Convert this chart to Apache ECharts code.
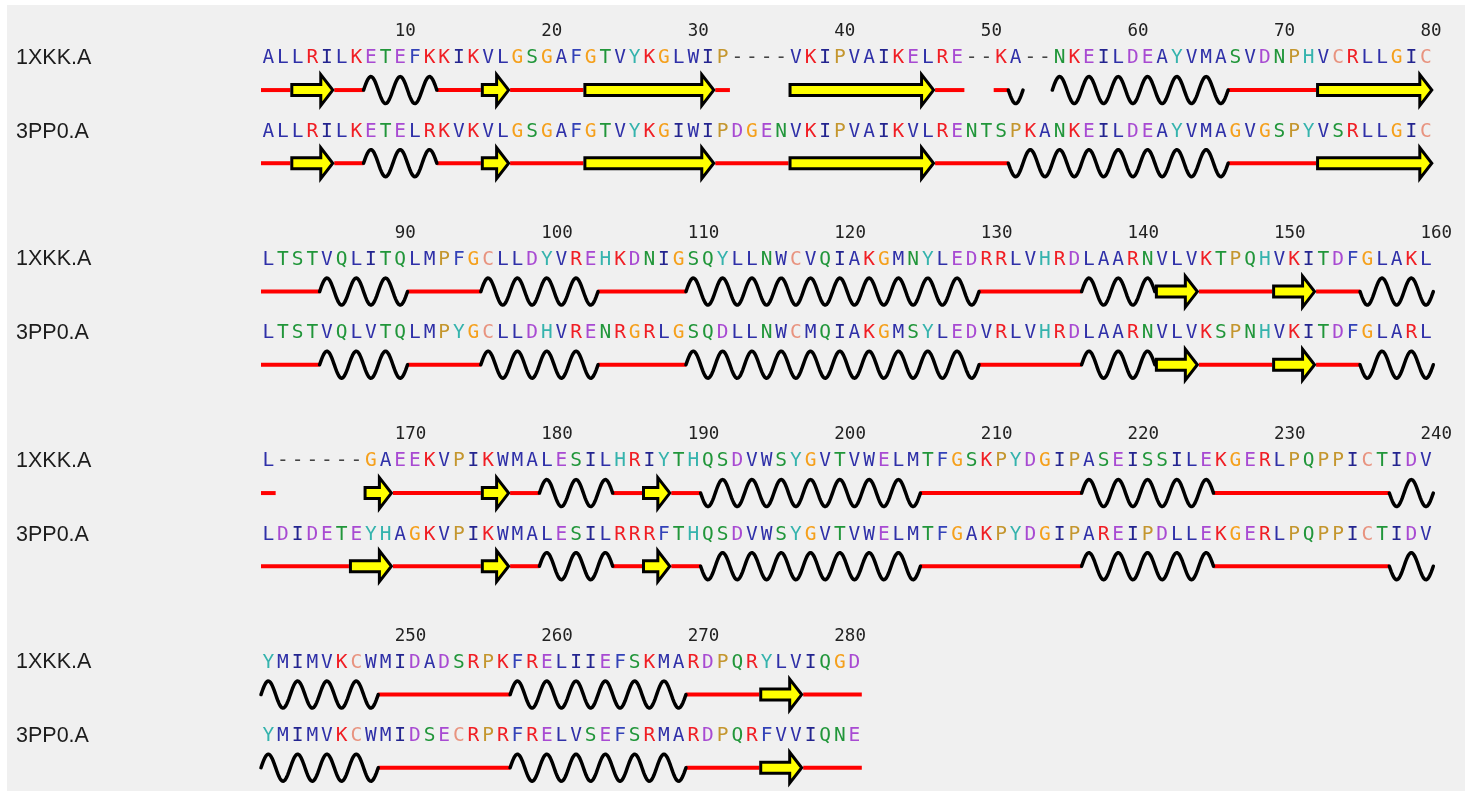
<!DOCTYPE html>
<html>
<head>
<meta charset="utf-8">
<script src="https://cdn.jsdelivr.net/npm/echarts@6/dist/echarts.min.js"></script>
<style>
html,body{margin:0;padding:0;background:#fff;}
#chart{width:1472px;height:791px;}
</style>
</head>
<body>
<div id="chart"></div>
<script>
// ---------------- DATA ----------------
const chainNames = ['1XKK.A', '3PP0.A'];

// residue number of the first column of each block minus one
const blockOffsets = [0, 80, 160, 240];

// position labels shown above each block
const tickLabels = [
  [10, 20, 30, 40, 50, 60, 70, 80],
  [90, 100, 110, 120, 130, 140, 150, 160],
  [170, 180, 190, 200, 210, 220, 230, 240],
  [250, 260, 270, 280]
];

// aligned sequences, one string per block
const seq1XKK = [
  'ALLRILKETEFKKIKVLGSGAFGTVYKGLWIP----VKIPVAIKELRE--KA--NKEILDEAYVMASVDNPHVCRLLGIC',
  'LTSTVQLITQLMPFGCLLDYVREHKDNIGSQYLLNWCVQIAKGMNYLEDRRLVHRDLAARNVLVKTPQHVKITDFGLAKL',
  'L------GAEEKVPIKWMALESILHRIYTHQSDVWSYGVTVWELMTFGSKPYDGIPASEISSILEKGERLPQPPICTIDV',
  'YMIMVKCWMIDADSRPKFRELIIEFSKMARDPQRYLVIQGD'
];
const seq3PP0 = [
  'ALLRILKETELRKVKVLGSGAFGTVYKGIWIPDGENVKIPVAIKVLRENTSPKANKEILDEAYVMAGVGSPYVSRLLGIC',
  'LTSTVQLVTQLMPYGCLLDHVRENRGRLGSQDLLNWCMQIAKGMSYLEDVRLVHRDLAARNVLVKSPNHVKITDFGLARL',
  'LDIDETEYHAGKVPIKWMALESILRRRFTHQSDVWSYGVTVWELMTFGAKPYDGIPAREIPDLLEKGERLPQPPICTIDV',
  'YMIMVKCWMIDSECRPRFRELVSEFSRMARDPQRFVVIQNE'
];

// secondary structure per residue: C coil, E strand, H helix (first turn up),
// h helix (first turn down), - no structure
const ss1XKK = [
  'CCEEECCHHHHHCCCEECCCCCEEEEEEEEEC----EEEEEEEEEECC--Ch--HHHHHHHHHHHHCCCCCCEEEEEEEE',
  'CCCCHHHHHHCCCCCHHHHHHHHCCCCCCHHHHHHHHHHHHHHHHHHHHCCCCCCCHHHHHEEECCCCCEEECCChhhhh',
  'C------EECCCCCCEECCHHHHHCCEECChhhhhhhhhhhhhhhCCCCCCCCCCCHHHHHHHHHCCCCCCCCCCCChhh',
  'HHHHHHHHCCCCCCCCCHHHHHHHHHHHHCCCCCEEECCCC'
];
const ss3PP0 = [
  'CCEEECCHHHHHCCCEECCCCCEEEEEEEEECCCCCEEEEEEEEEECCCCChhhhhhhhhhhhhhhCCCCCCEEEEEEEE',
  'CCCCHHHHHHCCCCCHHHHHHHHCCCCCCHHHHHHHHHHHHHHHHHHHHCCCCCCCHHHHHEEECCCCCEEECCChhhhh',
  'CCCCCCEEECCCCCCEECCHHHHHCCEECChhhhhhhhhhhhhhhCCCCCCCCCCCHHHHHHHHHCCCCCCCCCCCChhh',
  'HHHHHHHHCCCCCCCCCHHHHHHHHHHHHCCCCCEEECCCC'
];

const SEQS = [seq1XKK, seq3PP0];
const SSS = [ss1XKK, ss3PP0];

// ---------------- STYLE / LAYOUT ----------------
const CHART_H = 791;
const BLOCK_PX = 201.5;                 // pixel height of one block (= 1 y unit)
const Y_MAX = CHART_H / BLOCK_PX;
// vertical position of each text line inside one block
const LINE_TICK = 0.157;
const LINE_SEQ = [0.288, 0.654];
const LINE_SS = [0.447, 0.810];

const AA_COLORS = {
  A: '#2f30a8', V: '#2f30a8', L: '#2f30a8', I: '#23248f', M: '#2f30a8', F: '#3342b8', W: '#2f30a8',
  K: '#f01e24', R: '#f01e24',
  D: '#a84ad2', E: '#a84ad2',
  S: '#21963a', T: '#21963a', N: '#21963a', Q: '#21963a',
  G: '#f5a01c',
  P: '#c4962e',
  H: '#35b3ad', Y: '#35b3ad',
  C: '#e8937f',
  '-': '#444444'
};

const SEQ_FONT = 'DejaVu Sans Mono';
const AMP = 13.5;

// ---------------- RENDERERS ----------------
function rowItems() {
  const items = [];
  for (let b = 0; b < blockOffsets.length; b++) {
    for (let r = 0; r < 2; r++) items.push([1, b + 0.5, b, r]);
  }
  return items;
}

function renderText(params, api) {
  const b = api.value(2), r = api.value(3);
  const children = [];
  const seq = SEQS[r][b];
  const yv = b + LINE_SEQ[r];
  for (let i = 0; i < seq.length; i++) {
    const ch = seq[i];
    const p = api.coord([i + 1, yv]);
    children.push({
      type: 'text',
      style: {
        text: ch, x: p[0], y: p[1],
        fill: AA_COLORS[ch] || '#333',
        fontSize: 19.5, fontFamily: SEQ_FONT,
        align: 'center', verticalAlign: 'middle',
        textAlign: 'center', textVerticalAlign: 'middle'
      }
    });
  }
  // chain name
  const p0 = api.coord([0.5, yv]);
  children.push({
    type: 'text',
    style: {
      text: chainNames[r], x: p0[0] - 245, y: p0[1],
      fill: '#1c1c1c', fontSize: 21.5, fontFamily: 'Liberation Sans, Arial, sans-serif',
      align: 'left', verticalAlign: 'middle', textAlign: 'left', textVerticalAlign: 'middle'
    }
  });
  // tick numbers (once per block)
  if (r === 0) {
    tickLabels[b].forEach(function (lab) {
      const col = lab - blockOffsets[b];
      const pt = api.coord([col, b + LINE_TICK]);
      children.push({
        type: 'text',
        style: {
          text: String(lab), x: pt[0] - 5.5, y: pt[1],
          fill: '#222', fontSize: 17.5, fontFamily: SEQ_FONT,
          align: 'left', verticalAlign: 'middle', textAlign: 'left', textVerticalAlign: 'middle'
        }
      });
    });
  }
  return { type: 'group', children: children };
}

function renderSS(params, api) {
  const b = api.value(2), r = api.value(3);
  const ss = SSS[r][b];
  const yv = b + LINE_SS[r];
  const colW = api.size([1, 0])[0];
  const lines = [], waves = [], arrows = [];
  let i = 0;
  while (i < ss.length) {
    const t = ss[i];
    let j = i;
    while (j + 1 < ss.length && ss[j + 1] === t) j++;
    const p0 = api.coord([i + 0.5, yv]);
    const p1 = api.coord([j + 1.5, yv]);
    const n = j - i + 1;
    if (t === 'C') {
      lines.push({
        type: 'line',
        shape: { x1: p0[0], y1: p0[1], x2: p1[0], y2: p1[1] },
        style: { stroke: '#ff0000', lineWidth: 4 }
      });
    } else if (t === 'H' || t === 'h') {
      const dir = t === 'H' ? 1 : -1;
      const steps = Math.ceil(n * colW);
      const pts = [];
      for (let k = 0; k <= steps; k++) {
        const tt = k / steps * n;
        pts.push([p0[0] + tt * colW, p0[1] - dir * AMP * Math.sin(Math.PI * tt)]);
      }
      waves.push({
        type: 'polyline',
        shape: { points: pts },
        style: { stroke: '#000', lineWidth: 3.5, fill: null, lineCap: 'round', lineJoin: 'round' }
      });
    } else if (t === 'E') {
      const a = p0[0] + 1.5, tip = p1[0] - 1.5, y = p0[1];
      const BH = 5.5, HH = 15.5, HL = 12;
      const hb = tip - HL;
      arrows.push({
        type: 'polygon',
        shape: { points: [[a, y - BH], [hb, y - BH], [hb, y - HH], [tip, y], [hb, y + HH], [hb, y + BH], [a, y + BH]] },
        style: { fill: '#ffff00', stroke: '#000', lineWidth: 3, lineJoin: 'miter' }
      });
    }
    i = j + 1;
  }
  return { type: 'group', children: lines.concat(waves, arrows) };
}

// ---------------- CHART ----------------
const chart = echarts.init(document.getElementById('chart'), null, { renderer: 'canvas' });
chart.setOption({
  backgroundColor: '#ffffff',
  animation: false,
  graphic: [{
    type: 'rect', z: -10, silent: true,
    shape: { x: 7, y: 5, width: 1458, height: 786 },
    style: { fill: '#f0f0f0' }
  }],
  grid: { left: 261, top: 0, width: 1172.3, height: CHART_H },
  xAxis: { type: 'value', min: 0.5, max: 80.5, show: false },
  yAxis: { type: 'value', min: 0, max: Y_MAX, inverse: true, show: false },
  series: [
    { type: 'custom', name: 'structure', renderItem: renderSS, data: rowItems(), encode: { x: 0, y: 1 }, silent: true, clip: false, z: 2 },
    { type: 'custom', name: 'sequence', renderItem: renderText, data: rowItems(), encode: { x: 0, y: 1 }, silent: true, clip: false, z: 3 }
  ]
});
</script>
</body>
</html>
